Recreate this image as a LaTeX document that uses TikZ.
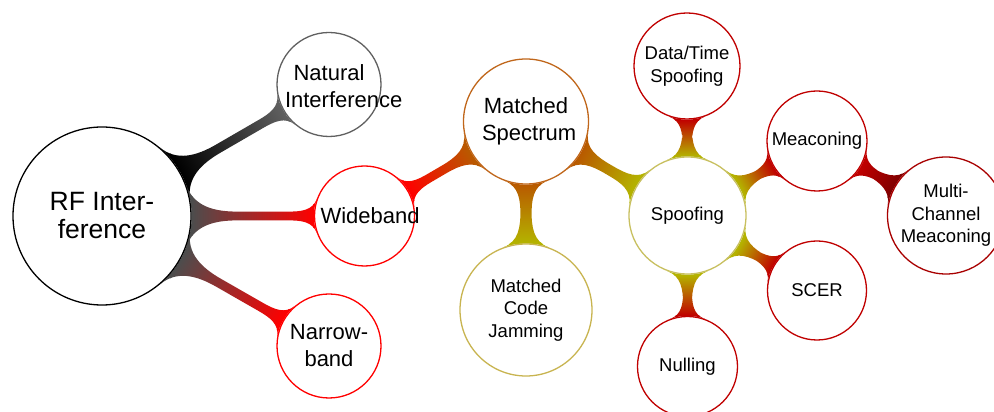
\documentclass[tikz,border=0pt]{standalone}
\usepackage{fontspec}
\setmainfont{Liberation Sans}
\usetikzlibrary{mindmap,backgrounds}

\definecolor{natgray}{HTML}{606060}
\definecolor{msorange}{HTML}{B85A00}
\definecolor{msborder}{HTML}{C0661A}
\definecolor{olivebar}{HTML}{B4B400}
\definecolor{spoofborder}{HTML}{C8C060}
\definecolor{mcjborder}{HTML}{C8B450}
\definecolor{darkred}{HTML}{C00000}
\definecolor{deepred}{HTML}{800000}
\definecolor{multiborder}{HTML}{A80000}

\tikzset{
  bubble/.style={circle, fill=white, draw=#1, line width=1.3pt, inner sep=0pt},
  caption/.style={align=center, text=black, inner sep=0pt},
  bigfont/.style={caption, font=\fontsize{26.5}{28}\selectfont},
  midfont/.style={caption, text width=88pt, font=\fontsize{22}{27}\selectfont},
  smallfont/.style={caption, font=\fontsize{18.5}{22.5}\selectfont},
}

\begin{document}
\begin{tikzpicture}[x=1pt,y=1pt]
\useasboundingbox (0,0) rectangle (994,412);

% concept circles
\node[bubble=black, minimum size=178pt] (root) at (102,196) {};
\node[bubble=natgray, minimum size=104pt] (nat) at (329,327.5) {};
\node[bubble=red, minimum size=100pt] (wide) at (364.5,196) {};
\node[bubble=red, minimum size=104pt] (narrow) at (329,66) {};
\node[bubble=msborder, minimum size=125pt] (ms) at (526,290.5) {};
\node[bubble=mcjborder, minimum size=132pt] (mcj) at (526,102) {};
\node[bubble=spoofborder, minimum size=117pt] (spoof) at (687.5,196.5) {};
\node[bubble=darkred, minimum size=106pt] (dt) at (687,346) {};
\node[bubble=darkred, minimum size=100pt] (mea) at (817,271) {};
\node[bubble=multiborder, minimum size=117pt] (multi) at (946,196.5) {};
\node[bubble=darkred, minimum size=99pt] (scer) at (817,121.5) {};
\node[bubble=darkred, minimum size=100pt] (null) at (687.5,45.5) {};

% concept texts; long words run past the right of their text block
\node[bigfont] (root-t) at (root) {RF Inter-\\ference};
\node[midfont] (nat-t) at ([yshift=-1.5pt]nat) {\mbox{Natural}\\\mbox{Interference}};
\node[midfont] (wide-t) at (wide) {\mbox{Wideband}};
\node[midfont] (narrow-t) at (narrow) {\mbox{Narrow-}\\\mbox{band}};
\node[midfont] (ms-t) at (ms) {\mbox{Matched}\\\mbox{Spectrum}};
\node[smallfont] (mcj-t) at (mcj) {Matched\\Code\\Jamming};
\node[smallfont] (spoof-t) at (spoof) {Spoofing};
\node[smallfont] (dt-t) at (dt) {Data/Time\\Spoofing};
\node[smallfont] (mea-t) at (mea) {Meaconing};
\node[smallfont] (multi-t) at (multi) {Multi-\\Channel\\Meaconing};
\node[smallfont] (scer-t) at (scer) {SCER};
\node[smallfont] (null-t) at (null) {Nulling};

% connection bars
\begin{scope}[on background layer]
\path (root) to[circle connection bar switch color=from (black) to (natgray)] (nat);
\path (root) to[circle connection bar switch color=from (black!70) to (red)] (wide);
\path (root) to[circle connection bar switch color=from (black!70) to (red)] (narrow);
\path (wide) to[circle connection bar switch color=from (red) to (msorange)] (ms);
\path (ms) to[circle connection bar switch color=from (msorange) to (olivebar)] (mcj);
\path (ms) to[circle connection bar switch color=from (msorange) to (olivebar)] (spoof);
\path (spoof) to[circle connection bar switch color=from (olivebar) to (darkred)] (dt);
\path (spoof) to[circle connection bar switch color=from (olivebar) to (darkred)] (mea);
\path (spoof) to[circle connection bar switch color=from (olivebar) to (darkred)] (scer);
\path (spoof) to[circle connection bar switch color=from (olivebar) to (darkred)] (null);
\path (mea) to[circle connection bar switch color=from (darkred) to (deepred)] (multi);
\end{scope}
\end{tikzpicture}
\end{document}
